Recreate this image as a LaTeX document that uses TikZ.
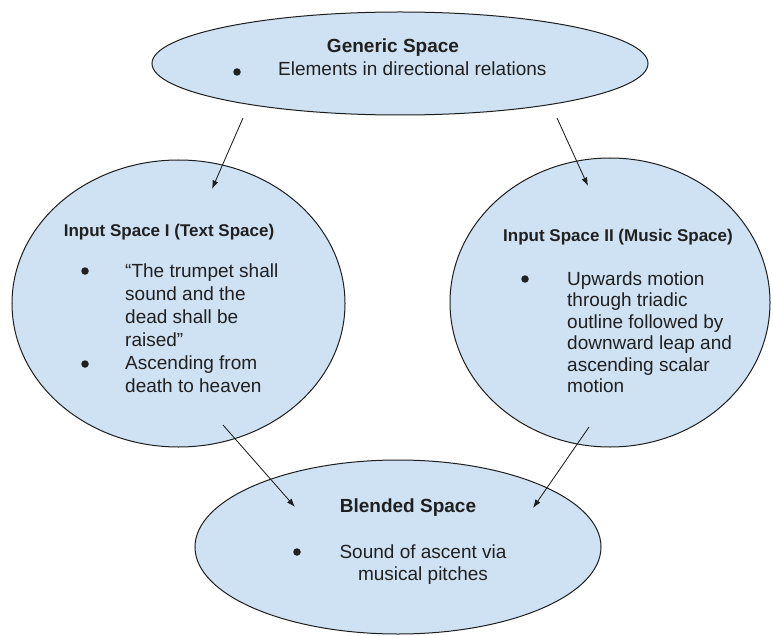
\documentclass[tikz,border=0pt]{standalone}
\usepackage{fontspec}
\setmainfont{Liberation Sans}
\usetikzlibrary{shapes.geometric,arrows.meta}
\definecolor{spacefill}{HTML}{CFE2F3}
\definecolor{edgecol}{HTML}{1E1E1E}
\definecolor{txtcol}{HTML}{202020}
\begin{document}
\begin{tikzpicture}[x=1bp,y=-1bp,
  space/.style={ellipse, draw=edgecol, fill=spacefill, line width=1bp, inner sep=0pt},
  txt/.style={inner sep=0pt, text=txtcol, font=\fontsize{19bp}{22bp}\selectfont},
  ttl/.style={inner sep=0pt, text=txtcol, font=\fontsize{19bp}{22bp}\selectfont\bfseries},
  sttl/.style={inner sep=0pt, text=txtcol, font=\fontsize{17bp}{20bp}\selectfont\bfseries},
  dot/.style={circle, fill=txtcol, inner sep=0pt, minimum size=7.5bp},
  arr/.style={draw=edgecol, line width=0.85bp, -{Latex[length=8.5bp,width=6bp]}}]
\useasboundingbox (0,0) rectangle (773,636);
\fill[white] (0,0) rectangle (773,636);

% spaces
\node[space, minimum width=496bp, minimum height=103bp] (generic) at (400,63.5) {};
\node[space, minimum width=333bp, minimum height=287bp] (input1) at (178.5,303.5) {};
\node[space, minimum width=320bp, minimum height=289bp] (input2) at (610,302.5) {};
\node[space, minimum width=406bp, minimum height=174bp] (blend) at (398,547) {};

% generic space text
\node[ttl, anchor=base] (gtitle) at (393,53) {Generic Space};
\node[dot] (gb1) at (237,72) {};
\node[txt, anchor=base west] (gt1) at (278,76) {Elements in directional relations};

% input space I
\node[sttl, anchor=base] (ltitle) at (169,236) {Input Space I (Text Space)};
\node[dot] (lb1) at (85,271) {};
\node[txt, anchor=base west] (lt1) at (125,277) {\vtop{\baselineskip=23bp\hbox{“The trumpet shall}\hbox{sound and the}\hbox{dead shall be}\hbox{raised”}}};
\node[dot] (lb2) at (85,364) {};
\node[txt, anchor=base west] (lt2) at (125,369) {\vtop{\baselineskip=23bp\hbox{Ascending from}\hbox{death to heaven}}};

% input space II
\node[sttl, anchor=base] (rtitle) at (618,241) {Input Space II (Music Space)};
\node[dot] (rb1) at (525,279) {};
\node[txt, anchor=base west] (rt1) at (567,285) {\vtop{\baselineskip=21.5bp\hbox{Upwards motion}\hbox{through triadic}\hbox{outline followed by}\hbox{downward leap and}\hbox{ascending scalar}\hbox{motion}}};

% blended space
\node[ttl, anchor=base] (btitle) at (408,512) {Blended Space};
\node[dot] (bb1) at (297,552) {};
\node[txt, anchor=base] (bt1) at (423,558) {Sound of ascent via};
\node[txt, anchor=base] (bt2) at (423,580) {musical pitches};

% connectors
\coordinate (a1s) at (243,118);
\coordinate (a1e) at (212,189);
\coordinate (a2s) at (557,118);
\coordinate (a2e) at (588,186);
\coordinate (a3s) at (223,425);
\coordinate (a3e) at (295,507);
\coordinate (a4s) at (589,427);
\coordinate (a4e) at (533,508);
\draw[arr] (a1s) -- (a1e);
\draw[arr] (a2s) -- (a2e);
\draw[arr] (a3s) -- (a3e);
\draw[arr] (a4s) -- (a4e);
\end{tikzpicture}
\end{document}
